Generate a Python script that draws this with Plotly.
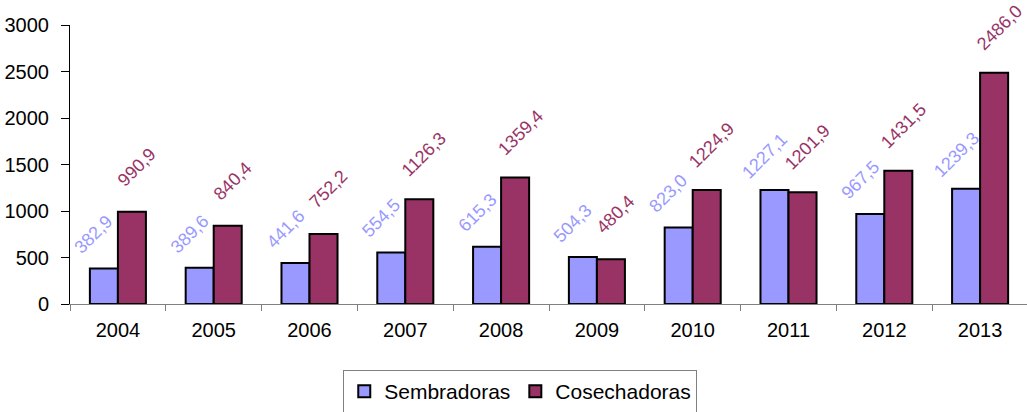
import plotly.graph_objects as go

years = ["2004", "2005", "2006", "2007", "2008", "2009", "2010", "2011", "2012", "2013"]
sembradoras = [382.9, 389.6, 441.6, 554.5, 615.3, 504.3, 823.0, 1227.1, 967.5, 1239.3]
cosechadoras = [990.9, 840.4, 752.2, 1126.3, 1359.4, 480.4, 1224.9, 1201.9, 1431.5, 2486.0]
y_ticks = [0, 500, 1000, 1500, 2000, 2500, 3000]

C_SEM = "#9999FF"
C_COS = "#993366"
FONT = "Liberation Sans, Arial, sans-serif"
FS = 20
FS_LAB = 18

def fmt(v):
    return f"{v:.1f}".replace(".", ",")

fig = go.Figure()
fig.add_trace(go.Bar(x=years, y=sembradoras, name="Sembradoras",
                     marker=dict(color=C_SEM, line=dict(color="black", width=2))))
fig.add_trace(go.Bar(x=years, y=cosechadoras, name="Cosechadoras",
                     marker=dict(color=C_COS, line=dict(color="black", width=2))))

annotations = []
for i, v in enumerate(sembradoras):
    annotations.append(dict(x=i, y=v, text=fmt(v), showarrow=False, textangle=-45,
                            xshift=-24, yshift=34, xanchor="center", yanchor="middle",
                            font=dict(color=C_SEM, size=FS_LAB, family=FONT)))
for i, v in enumerate(cosechadoras):
    annotations.append(dict(x=i, y=v, text=fmt(v), showarrow=False, textangle=-45,
                            xshift=19, yshift=45, xanchor="center", yanchor="middle",
                            font=dict(color=C_COS, size=FS_LAB, family=FONT)))

fig.update_layout(
    width=1030, height=412,
    margin=dict(l=70, r=2, t=25, b=108, autoexpand=False),
    paper_bgcolor="white", plot_bgcolor="white",
    font=dict(family=FONT, size=FS, color="black"),
    barmode="group", bargap=0.415, bargroupgap=0,
    annotations=annotations,
    showlegend=True,
    legend=dict(orientation="h", x=0.47, xanchor="center",
                yref="container", y=1 - 370 / 412, yanchor="top",
                bordercolor="#808080", borderwidth=1, font=dict(size=21, family=FONT),
                itemwidth=30, tracegroupgap=0),
    xaxis=dict(type="category", range=[-0.5, len(years) - 0.5], showline=True,
               linecolor="#808080", linewidth=1, automargin=False,
               ticks="outside", tickson="boundaries", ticklen=6, tickcolor="#808080",
               showgrid=False, tickfont=dict(size=FS), ticklabelstandoff=8),
    yaxis=dict(range=[0, 3000], tickvals=y_ticks, showline=True, linecolor="black",
               linewidth=1, ticks="outside", ticklen=8, tickcolor="black", showgrid=False,
               zeroline=False, automargin=False, tickfont=dict(size=FS), ticklabelstandoff=8),
)

fig.write_html("out.html", config={"displayModeBar": False},
               post_script="document.body.style.margin='0';document.body.style.overflow='hidden';")
